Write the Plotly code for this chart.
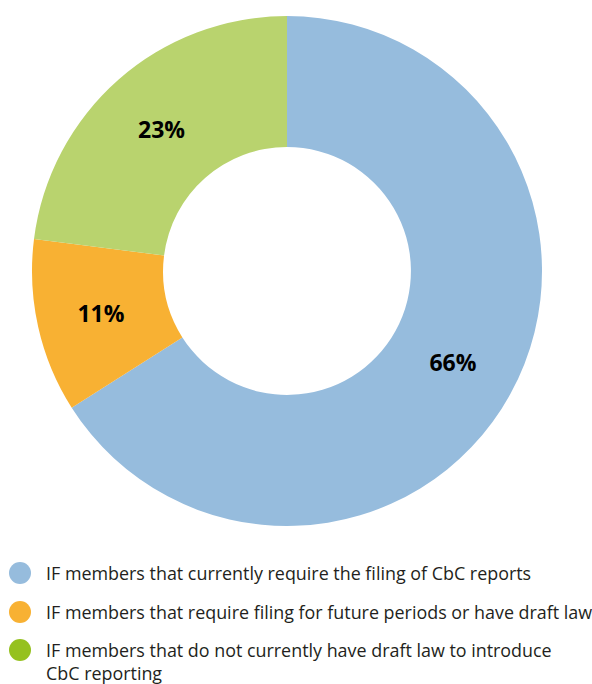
import plotly.graph_objects as go

# Share of Inclusive Framework members by CbC reporting status
categories = [
    "IF members that currently require the filing of CbC reports",
    "IF members that require filing for future periods or have draft law",
    "IF members that do not currently have draft law to introduce<br>CbC reporting",
]
shares = [66, 11, 23]
slice_colors = ["#96bcdd", "#f8b133", "#b9d36e"]
legend_colors = ["#96bcdd", "#f8b133", "#95c11f"]

W, H = 592, 684

fig = go.Figure(
    go.Pie(
        values=shares,
        labels=categories,
        sort=False,
        direction="clockwise",
        rotation=0,
        hole=0.486,
        marker=dict(colors=slice_colors, line=dict(width=0)),
        texttemplate="%{value}%",
        textposition="inside",
        insidetextorientation="horizontal",
        textfont=dict(family="Open Sans", size=23, color="#000000", weight="bold"),
        domain=dict(x=[32 / W, 542 / W], y=[1 - 526 / H, 1 - 16 / H]),
        showlegend=False,
        hoverinfo="label+percent",
    )
)

# Hand-drawn legend below the donut
legend_rows_px = [573, 612, 650]
line_gap_px = 22
shapes = []
annotations = []
r = 11
for label, color, ypx in zip(categories, legend_colors, legend_rows_px):
    shapes.append(
        dict(
            type="circle",
            xref="paper", yref="paper",
            x0=(20 - r) / W, x1=(20 + r) / W,
            y0=1 - (ypx + r) / H, y1=1 - (ypx - r) / H,
            fillcolor=color,
            line=dict(width=0),
        )
    )
    n_lines = label.count("<br>") + 1
    ymid = ypx + (n_lines - 1) * line_gap_px / 2
    annotations.append(
        dict(
            text=label,
            xref="paper", yref="paper",
            x=44 / W, y=1 - ymid / H,
            xanchor="left", yanchor="middle",
            align="left",
            showarrow=False,
            font=dict(family="Open Sans", size=17.9, color="#231f20"),
        )
    )

fig.update_layout(
    width=W,
    height=H,
    margin=dict(l=0, r=0, t=0, b=0),
    paper_bgcolor="#ffffff",
    plot_bgcolor="#ffffff",
    shapes=shapes,
    annotations=annotations,
)

fig.write_html("out.html")
